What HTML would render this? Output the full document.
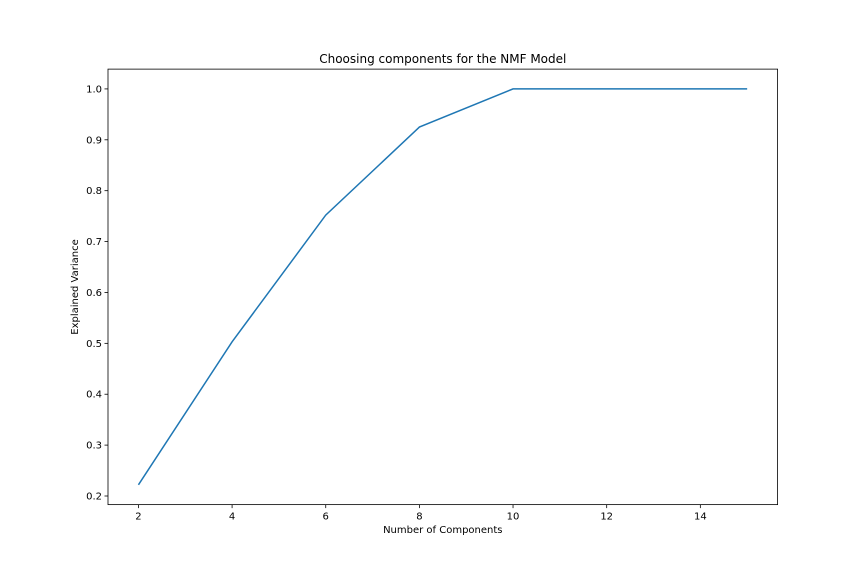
<!DOCTYPE html>
<html><head><meta charset="utf-8"><style>
body{margin:0;background:#fff;font-family:"DejaVu Sans","Liberation Sans",sans-serif;}
</style></head><body>
<svg id="chart" width="864" height="576" xmlns="http://www.w3.org/2000/svg">
<rect width="864" height="576" fill="#fff"/>
<text x="442.8" y="63" font-size="12" text-anchor="middle">Choosing components for the NMF Model</text>
<g id="ticks"></g>
<path id="line" fill="none" stroke="#1f77b4" stroke-width="1.5"/>
<rect x="108" y="69.12" width="669.6" height="435.5" fill="none" stroke="#000" stroke-width="0.8"/>
<text x="442.8" y="533" font-size="10" text-anchor="middle">Number of Components</text>
<text transform="translate(78,287) rotate(-90)" font-size="10" text-anchor="middle">Explained Variance</text>
</svg>
<script>
const xValues=[2,4,6,8,10,15];
const yValues=[0.222,0.503,0.752,0.925,1.0,1.0];
const xTicks=[2,4,6,8,10,12,14];
const yTicks=[0.2,0.3,0.4,0.5,0.6,0.7,0.8,0.9,1.0];
const L=108,R=777.6,T=69.12,B=504.6;
const xmin=Math.min(...xValues),xmax=Math.max(...xValues),xm=(xmax-xmin)*0.05;
const ymin=Math.min(...yValues),ymax=Math.max(...yValues),ym=(ymax-ymin)*0.05;
const sx=v=>L+(v-(xmin-xm))/((xmax+xm)-(xmin-xm))*(R-L);
const sy=v=>B-(v-(ymin-ym))/((ymax+ym)-(ymin-ym))*(B-T);
const ns="http://www.w3.org/2000/svg",g=document.getElementById('ticks');
function mk(t,a){const e=document.createElementNS(ns,t);for(const k in a)e.setAttribute(k,a[k]);g.appendChild(e);return e;}
xTicks.forEach(v=>{const x=sx(v);
const l=mk('line',{x1:x,x2:x,y1:B,y2:B+3.5,stroke:'#000','stroke-width':0.8});


const t=mk('text',{x:x,y:B+15,'font-size':10,'text-anchor':'middle'});t.textContent=v;

});
yTicks.forEach(v=>{const y=sy(v);
const l=mk('line',{x1:L-3.5,x2:L,y1:y,y2:y,stroke:'#000','stroke-width':0.8});


const t=mk('text',{x:L-6,y:y+3.5,'font-size':10,'text-anchor':'end'});t.textContent=v.toFixed(1);

});
document.getElementById('line').setAttribute('d',xValues.map((v,i)=>(i?'L':'M')+sx(v)+','+sy(yValues[i])).join(''));
</script>
</body></html>
